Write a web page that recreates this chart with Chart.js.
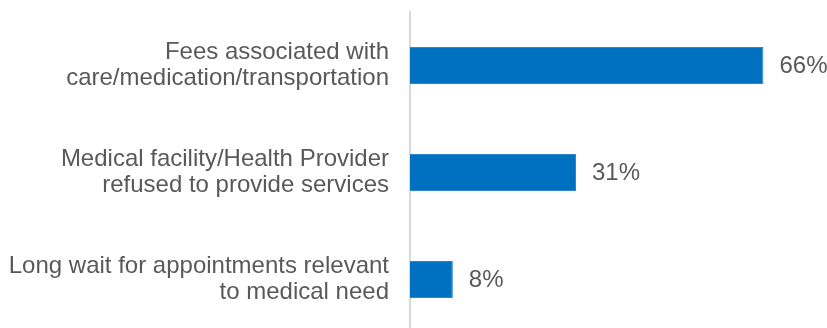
<!DOCTYPE html>
<html>
<head>
<meta charset="utf-8">
<script src="https://cdn.jsdelivr.net/npm/chart.js@4"></script>
<style>
  html, body { margin: 0; padding: 0; background: #ffffff; overflow: hidden; }
  #wrap { width: 827px; height: 333px; }
</style>
</head>
<body>
<div id="wrap"><canvas id="chart"></canvas></div>
<script>
// Barriers reported, share of respondents (%)
const categories = [
  ["Fees associated with", "care/medication/transportation"],
  ["Medical facility/Health Provider", "refused to provide services"],
  ["Long wait for appointments relevant", "to medical need"]
];
const shares = [66, 31, 8];

const TEXT = '#595959';
const BAR = '#0070C0';

// Writes each bar's value to the right of its end
const valueLabels = {
  id: 'valueLabels',
  afterDatasetsDraw(chart) {
    const ctx = chart.ctx;
    const meta = chart.getDatasetMeta(0);
    ctx.save();
    ctx.font = '24px "Liberation Sans", Arial, sans-serif';
    ctx.fillStyle = TEXT;
    ctx.textAlign = 'left';
    ctx.textBaseline = 'middle';
    meta.data.forEach((bar, i) => {
      ctx.fillText(shares[i] + '%', bar.x + 16, bar.y + 1);
    });
    ctx.restore();
  }
};

new Chart(document.getElementById('chart'), {
  type: 'bar',
  data: {
    labels: categories,
    datasets: [{
      data: shares,
      backgroundColor: BAR,
      borderColor: '#2f86cc',
      borderWidth: 1,
      borderSkipped: 'left',
      barPercentage: 0.346,
      categoryPercentage: 1.0
    }]
  },
  options: {
    indexAxis: 'y',
    responsive: true,
    maintainAspectRatio: false,
    animation: false,
    layout: { padding: { top: 12, right: 10, bottom: 0, left: 0 } },
    plugins: { legend: { display: false }, tooltip: { enabled: false }, title: { display: false } },
    scales: {
      x: { display: false, min: 0, max: 76 },
      y: {
        grid: { display: false, drawTicks: false },
        border: { display: true, color: '#d9d9d9', width: 2 },
        ticks: {
          color: TEXT,
          padding: 21,
          font: { family: '"Liberation Sans", Arial, sans-serif', size: 24, lineHeight: 1.07 }
        },
        afterFit(scale) {
          // keep the axis line at a fixed x and let the bars use the full height
          scale.width = 410;
          scale.paddingTop = 0;
          scale.paddingBottom = 0;
        }
      }
    }
  },
  plugins: [valueLabels]
});
</script>
</body>
</html>
